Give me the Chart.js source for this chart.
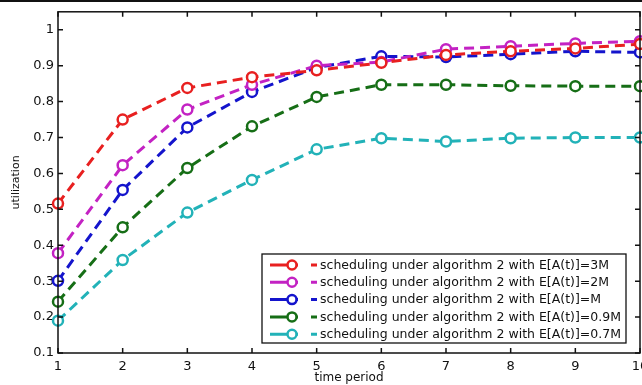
<!DOCTYPE html>
<html lang="en">
<head>
<meta charset="UTF-8">
<title>Utilization over time period</title>
<style>
    * { margin: 0; padding: 0; box-sizing: border-box; }
    body {
        background: #fff;
        width: 642px;
        height: 385px;
        overflow: hidden;
        position: relative;
    }
    .frame-top {
        position: absolute;
        left: 0; top: 0;
        width: 100%; height: 2px;
        background: #111;
        z-index: 2;
    }
    .chart-box {
        position: absolute;
        left: 0; top: 0;
    }
</style>
</head>
<body>
<div class="frame-top"></div>
<div class="chart-box"><canvas id="utilChart" width="662" height="385"></canvas></div>

<script src="https://cdn.jsdelivr.net/npm/chart.js@4.4.0/dist/chart.umd.min.js"></script>
<script>
// data
const periods = [1, 2, 3, 4, 5, 6, 7, 8, 9, 10];
const util3M  = [0.516, 0.750, 0.838, 0.868, 0.887, 0.908, 0.930, 0.940, 0.948, 0.960];
const util2M  = [0.378, 0.623, 0.778, 0.847, 0.900, 0.910, 0.946, 0.954, 0.962, 0.968];
const utilM   = [0.301, 0.554, 0.728, 0.827, 0.895, 0.926, 0.924, 0.932, 0.940, 0.937];
const util09M = [0.243, 0.450, 0.615, 0.731, 0.813, 0.847, 0.847, 0.844, 0.843, 0.843];
const util07M = [0.190, 0.359, 0.491, 0.582, 0.667, 0.698, 0.689, 0.698, 0.700, 0.700];
const yTicks  = [0.1, 0.2, 0.3, 0.4, 0.5, 0.6, 0.7, 0.8, 0.9, 1];

const seriesLabels = [
    'scheduling under algorithm 2 with E[A(t)]=3M',
    'scheduling under algorithm 2 with E[A(t)]=2M',
    'scheduling under algorithm 2 with E[A(t)]=M',
    'scheduling under algorithm 2 with E[A(t)]=0.9M',
    'scheduling under algorithm 2 with E[A(t)]=0.7M'
];
const seriesValues = [util3M, util2M, utilM, util09M, util07M];
const seriesColors = ['#e82020', '#c322c3', '#1414cc', '#166e16', '#22b2b8'];

const DASH = [10, 6];

function makeDataset(i) {
    return {
        label: seriesLabels[i],
        data: periods.map((p, k) => ({ x: p, y: seriesValues[i][k] })),
        borderColor: seriesColors[i],
        borderWidth: 3,
        borderDash: DASH,
        pointRadius: 5,
        pointBorderWidth: 2.5,
        pointBackgroundColor: '#fff',
        pointBorderColor: seriesColors[i],
        tension: 0,
        clip: false
    };
}

// box around the axes with inward tick marks (matlab style)
const axesBox = {
    id: 'axesBox',
    afterDatasetsDraw(chart) {
        const { ctx, chartArea: a, scales } = chart;
        const tick = 5;
        ctx.save();
        ctx.strokeStyle = '#111';
        ctx.lineWidth = 1.5;
        ctx.strokeRect(a.left, a.top, a.right - a.left, a.bottom - a.top);
        ctx.beginPath();
        scales.x.ticks.forEach(t => {
            const px = scales.x.getPixelForValue(t.value);
            ctx.moveTo(px, a.bottom); ctx.lineTo(px, a.bottom - tick);
            ctx.moveTo(px, a.top);    ctx.lineTo(px, a.top + tick);
        });
        scales.y.ticks.forEach(t => {
            const py = scales.y.getPixelForValue(t.value);
            ctx.moveTo(a.left, py);  ctx.lineTo(a.left + tick, py);
            ctx.moveTo(a.right, py); ctx.lineTo(a.right - tick, py);
        });
        ctx.stroke();
        ctx.restore();
    }
};

// legend box in the lower right, drawn by hand
const boxLegend = {
    id: 'boxLegend',
    afterDraw(chart) {
        const { ctx } = chart;
        const box = { left: 262, top: 254, right: 626, bottom: 343 };
        const rowH = 17.3;
        ctx.save();
        ctx.fillStyle = '#fff';
        ctx.fillRect(box.left, box.top, box.right - box.left, box.bottom - box.top);
        ctx.strokeStyle = '#111';
        ctx.lineWidth = 1.3;
        ctx.strokeRect(box.left, box.top, box.right - box.left, box.bottom - box.top);

        ctx.font = '12.5px "DejaVu Sans", sans-serif';
        ctx.textBaseline = 'middle';
        chart.data.datasets.forEach((ds, i) => {
            const y = box.top + 11 + i * rowH;
            ctx.strokeStyle = ds.borderColor;
            ctx.lineWidth = 3;
            ctx.beginPath();
            ctx.moveTo(270, y); ctx.lineTo(298, y);
            ctx.moveTo(311, y); ctx.lineTo(317, y);
            ctx.stroke();
            ctx.beginPath();
            ctx.arc(292, y, 4.5, 0, Math.PI * 2);
            ctx.fillStyle = '#fff';
            ctx.fill();
            ctx.lineWidth = 2.5;
            ctx.stroke();
            ctx.fillStyle = '#111';
            ctx.fillText(ds.label, 320, y + 0.5);
        });
        ctx.restore();
    }
};

new Chart(document.getElementById('utilChart'), {
    type: 'line',
    data: { datasets: seriesValues.map((v, i) => makeDataset(i)) },
    options: {
        responsive: false,
        animation: false,
        devicePixelRatio: 1,
        layout: { padding: { top: 8, right: 22, left: 0, bottom: 0 } },
        plugins: {
            legend: { display: false },
            tooltip: { enabled: false }
        },
        scales: {
            x: {
                type: 'linear',
                min: 1,
                max: 10,
                afterBuildTicks: s => { s.ticks = periods.map(v => ({ value: v })); },
                afterFit: s => { s.height = 32; },
                grid: { display: false, drawTicks: false },
                border: { display: false },
                ticks: {
                    color: '#111',
                    padding: 6,
                    maxRotation: 0,
                    font: { family: 'DejaVu Sans', size: 13 },
                    callback: v => String(v)
                },
                title: {
                    display: true,
                    text: 'time period',
                    color: '#111',
                    padding: { top: 0, bottom: 0 },
                    font: { family: 'DejaVu Sans', size: 12 }
                }
            },
            y: {
                min: 0.1,
                max: 1.05,
                afterBuildTicks: s => { s.ticks = yTicks.map(v => ({ value: v })); },
                afterFit: s => { s.width = 58; },
                grid: { display: false, drawTicks: false },
                border: { display: false },
                ticks: {
                    color: '#111',
                    padding: 4,
                    font: { family: 'DejaVu Sans', size: 13 },
                    callback: v => String(Number(v.toFixed(1)))
                },
                title: {
                    display: true,
                    text: 'utilization',
                    color: '#111',
                    padding: { top: 10, bottom: 0 },
                    font: { family: 'DejaVu Sans', size: 11 }
                }
            }
        }
    },
    plugins: [axesBox, boxLegend]
});
</script>
</body>
</html>
